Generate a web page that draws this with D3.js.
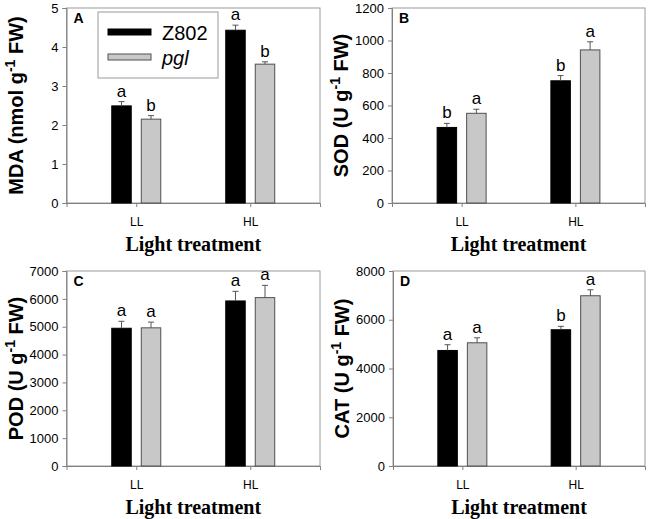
<!DOCTYPE html>
<html><head><meta charset="utf-8">
<script src="https://cdn.jsdelivr.net/npm/d3@7"></script>
<style>body{margin:0;background:#fff}svg{display:block}</style>
</head><body>
<svg id="c" width="649" height="519"></svg>
<script>
const categories = ["LL", "HL"];
const seriesNames = ["Z802", "pgl"];

const mdaZ802 = [2.49, 4.43], mdaZ802Err = [0.11, 0.13];
const mdaPgl = [2.15, 3.56], mdaPglErr = [0.09, 0.06];
const mdaLetters = [["a", "a"], ["b", "b"]];
const mdaTicks = [0, 1, 2, 3, 4, 5];

const sodZ802 = [465, 752], sodZ802Err = [25, 32];
const sodPgl = [552, 942], sodPglErr = [25, 50];
const sodLetters = [["b", "b"], ["a", "a"]];
const sodTicks = [0, 200, 400, 600, 800, 1000, 1200];

const podZ802 = [4945, 5925], podZ802Err = [250, 345];
const podPgl = [4960, 6045], podPglErr = [205, 440];
const podLetters = [["a", "a"], ["a", "a"]];
const podTicks = [0, 1000, 2000, 3000, 4000, 5000, 6000, 7000];

const catZ802 = [4740, 5590], catZ802Err = [235, 140];
const catPgl = [5055, 6985], catPglErr = [205, 245];
const catLetters = [["a", "b"], ["a", "a"]];
const catTicks = [0, 2000, 4000, 6000, 8000];

const panels = [
  {id: "A", label: ["MDA (nmol g", "-1", " FW)"], vals: [mdaZ802, mdaPgl], errs: [mdaZ802Err, mdaPglErr], letters: mdaLetters, ticks: mdaTicks, x0: 66.5, y0: 8, x1: 320, y1: 203, legend: true},
  {id: "B", label: ["SOD (U g", "-1", " FW)"], vals: [sodZ802, sodPgl], errs: [sodZ802Err, sodPglErr], letters: sodLetters, ticks: sodTicks, x0: 392, y0: 8, x1: 645, y1: 203},
  {id: "C", label: ["POD (U g", "-1", " FW)"], vals: [podZ802, podPgl], errs: [podZ802Err, podPglErr], letters: podLetters, ticks: podTicks, x0: 66.5, y0: 271, x1: 320, y1: 466},
  {id: "D", label: ["CAT (U g", "-1", " FW)"], vals: [catZ802, catPgl], errs: [catZ802Err, catPglErr], letters: catLetters, ticks: catTicks, x0: 393, y0: 271, x1: 645, y1: 466}
];

const fills = ["#000000", "#c8c8c8"];
const strokes = ["#000000", "#505050"];
const svg = d3.select("#c");

panels.forEach(p => {
  const w = p.x1 - p.x0, h = p.y1 - p.y0;
  const g = svg.append("g").attr("transform", `translate(${p.x0},${p.y0})`);
  const x = d3.scalePoint().domain(categories).range([0, w]).padding(0.612);
  const xs = d3.scaleBand().domain(seriesNames).range([-24.5, 24.5]).paddingInner(0.34);
  const y = d3.scaleLinear().domain([0, p.ticks[p.ticks.length - 1]]).range([h, 0]);

  // frame
  g.append("rect").attr("x", 0).attr("y", 0).attr("width", w).attr("height", h)
    .attr("fill", "none").attr("stroke", "#9a9a9a").attr("stroke-width", 1);

  // y axis
  const ya = g.append("g").call(d3.axisLeft(y).tickValues(p.ticks).tickSize(4).tickPadding(4).tickFormat(d3.format("d")));
  ya.select(".domain").attr("stroke", "#808080");
  ya.selectAll(".tick line").attr("stroke", "#808080");
  ya.selectAll(".tick text").attr("font-family", "Liberation Sans, Arial, sans-serif").attr("font-size", 13).attr("fill", "#000");

  // x axis
  const xa = g.append("g").attr("transform", `translate(0,${h})`).call(d3.axisBottom(x).tickSize(4).tickPadding(10));
  xa.select(".domain").attr("stroke", "#808080");
  xa.selectAll(".tick line").attr("stroke", "#808080");
  xa.selectAll(".tick text").attr("font-family", "Liberation Sans, Arial, sans-serif").attr("font-size", 12).attr("fill", "#000");

  // bars
  seriesNames.forEach((s, si) => {
    categories.forEach((c, ci) => {
      const v = p.vals[si][ci], e = p.errs[si][ci];
      const bx = x(c) + xs(s), bw = xs.bandwidth();
      g.append("rect").attr("x", bx).attr("y", y(v)).attr("width", bw).attr("height", h - y(v))
        .attr("fill", fills[si]).attr("stroke", strokes[si]).attr("stroke-width", 1);
      const cx = bx + bw / 2;
      g.append("line").attr("x1", cx).attr("x2", cx).attr("y1", y(v)).attr("y2", y(v + e))
        .attr("stroke", "#555").attr("stroke-width", 1);
      g.append("line").attr("x1", cx - 3).attr("x2", cx + 3).attr("y1", y(v + e)).attr("y2", y(v + e))
        .attr("stroke", "#555").attr("stroke-width", 1);
      g.append("text").attr("x", cx).attr("y", y(v + e) - 5).attr("text-anchor", "middle")
        .attr("font-family", "Liberation Sans, Arial, sans-serif").attr("font-size", 17).attr("fill", "#000")
        .text(p.letters[si][ci]);
    });
  });

  // panel letter
  g.append("text").attr("x", 7).attr("y", 15).attr("font-family", "Liberation Sans, Arial, sans-serif")
    .attr("font-weight", "bold").attr("font-size", 14).text(p.id);

  // y label
  const yl = g.append("text").attr("transform", `translate(${-44},${h / 2}) rotate(-90)`)
    .attr("text-anchor", "middle").attr("font-family", "Liberation Sans, Arial, sans-serif")
    .attr("font-weight", "bold").attr("font-size", 20).attr("fill", "#000");
  yl.append("tspan").text(p.label[0]);
  yl.append("tspan").attr("dy", -8).attr("font-size", 14).text(p.label[1]);
  yl.append("tspan").attr("dy", 8).text(p.label[2]);

  // x title
  g.append("text").attr("x", w / 2).attr("y", h + 48).attr("text-anchor", "middle")
    .attr("font-family", "Liberation Serif, Times New Roman, serif").attr("font-weight", "bold")
    .attr("font-size", 20).text("Light treatment");

  if (p.legend) {
    const lg = g.append("g").attr("transform", `translate(${98 - p.x0},${12 - p.y0})`);
    lg.append("rect").attr("x", 0).attr("y", 0).attr("width", 120).attr("height", 66)
      .attr("fill", "#fff").attr("stroke", "#9a9a9a");
    seriesNames.forEach((s, si) => {
      const yy = 17 + si * 25;
      lg.append("rect").attr("x", 10).attr("y", yy).attr("width", 43).attr("height", 6)
        .attr("fill", fills[si]).attr("stroke", strokes[si]).attr("stroke-width", 1);
      lg.append("text").attr("x", 64).attr("y", yy + 11).attr("font-family", "Liberation Sans, Arial, sans-serif")
        .attr("font-size", 20).attr("font-style", si === 1 ? "italic" : "normal").text(s);
    });
  }
});
</script>
</body></html>
